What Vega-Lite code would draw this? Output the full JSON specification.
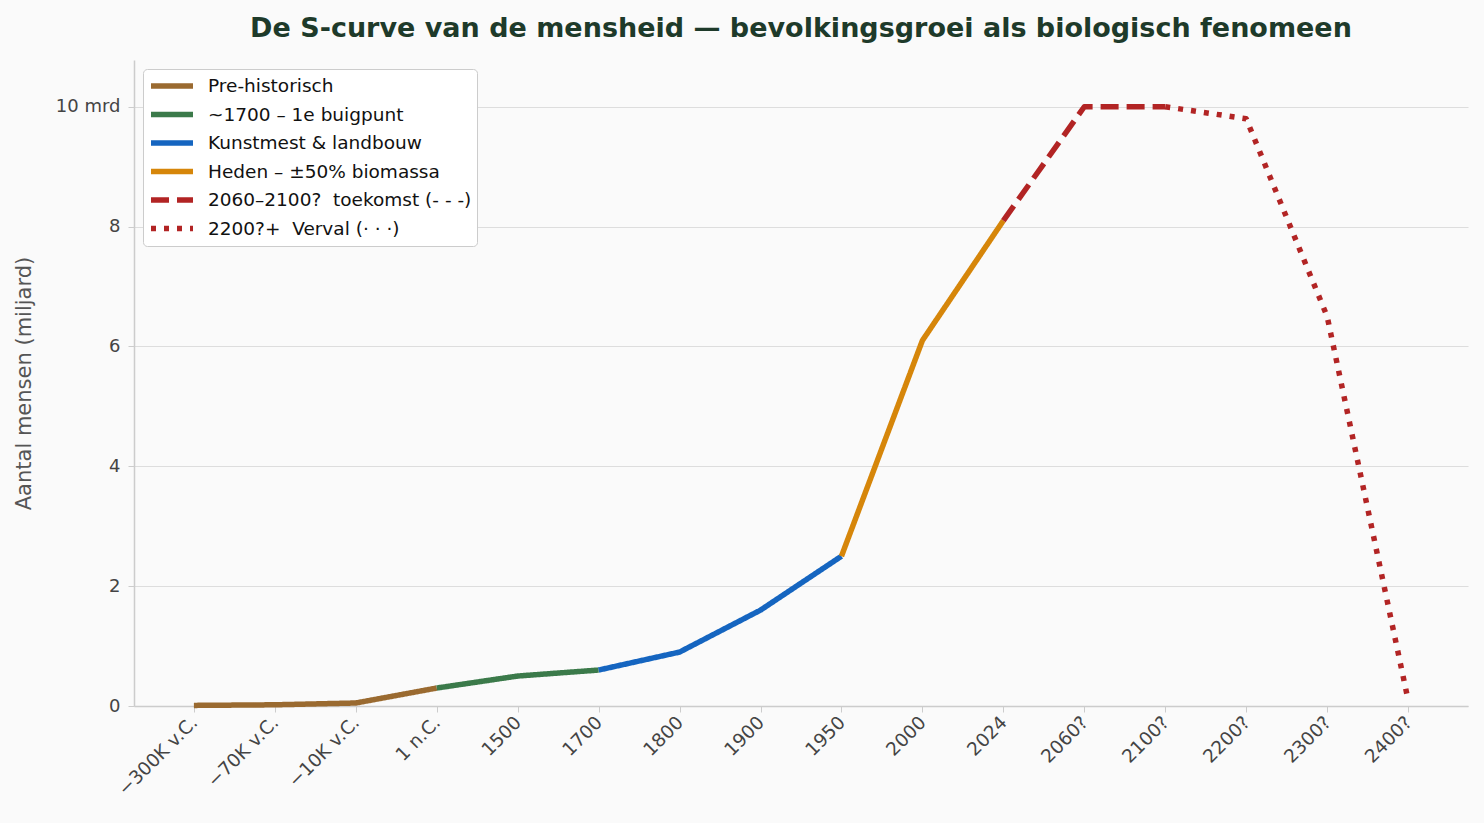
{
  "$schema": "https://vega.github.io/schema/vega-lite/v6.json",
  "width": 1334,
  "height": 646,
  "autosize": {"type": "none"},
  "padding": {"left": 134, "top": 60, "right": 16, "bottom": 117},
  "background": "#fafafa",
  "title": {
    "text": "De S-curve van de mensheid — bevolkingsgroei als biologisch fenomeen",
    "font": "DejaVu Sans",
    "fontSize": 27,
    "fontWeight": "bold",
    "color": "#1e3a2a",
    "anchor": "middle",
    "offset": 17
  },
  "data": {
    "values": [
      {"tijd": "−300K v.C.", "mensen": 0.01, "fase": "Pre-historisch"},
      {"tijd": "−70K v.C.", "mensen": 0.02, "fase": "Pre-historisch"},
      {"tijd": "−10K v.C.", "mensen": 0.05, "fase": "Pre-historisch"},
      {"tijd": "1 n.C.", "mensen": 0.3, "fase": "Pre-historisch"},
      {"tijd": "1 n.C.", "mensen": 0.3, "fase": "~1700 – 1e buigpunt"},
      {"tijd": "1500", "mensen": 0.5, "fase": "~1700 – 1e buigpunt"},
      {"tijd": "1700", "mensen": 0.6, "fase": "~1700 – 1e buigpunt"},
      {"tijd": "1700", "mensen": 0.6, "fase": "Kunstmest & landbouw"},
      {"tijd": "1800", "mensen": 0.9, "fase": "Kunstmest & landbouw"},
      {"tijd": "1900", "mensen": 1.6, "fase": "Kunstmest & landbouw"},
      {"tijd": "1950", "mensen": 2.5, "fase": "Kunstmest & landbouw"},
      {"tijd": "1950", "mensen": 2.5, "fase": "Heden – ±50% biomassa"},
      {"tijd": "2000", "mensen": 6.1, "fase": "Heden – ±50% biomassa"},
      {"tijd": "2024", "mensen": 8.1, "fase": "Heden – ±50% biomassa"},
      {"tijd": "2024", "mensen": 8.1, "fase": "2060–2100?\u00a0 toekomst (- - -)"},
      {"tijd": "2060?", "mensen": 10.0, "fase": "2060–2100?\u00a0 toekomst (- - -)"},
      {"tijd": "2100?", "mensen": 10.0, "fase": "2060–2100?\u00a0 toekomst (- - -)"},
      {"tijd": "2100?", "mensen": 10.0, "fase": "2200?+\u00a0 Verval (· · ·)"},
      {"tijd": "2200?", "mensen": 9.8, "fase": "2200?+\u00a0 Verval (· · ·)"},
      {"tijd": "2300?", "mensen": 6.5, "fase": "2200?+\u00a0 Verval (· · ·)"},
      {"tijd": "2400?", "mensen": 0.1, "fase": "2200?+\u00a0 Verval (· · ·)"}
    ]
  },
  "mark": {"type": "line", "strokeWidth": 5.5, "strokeCap": "butt", "strokeJoin": "round"},
  "encoding": {
    "x": {
      "field": "tijd",
      "type": "ordinal",
      "sort": ["−300K v.C.", "−70K v.C.", "−10K v.C.", "1 n.C.", "1500", "1700", "1800", "1900", "1950", "2000", "2024", "2060?", "2100?", "2200?", "2300?", "2400?"],
      "scale": {"type": "point", "padding": 0.74},
      "axis": {
        "title": null,
        "labelAngle": -45,
        "labelAlign": "right",
        "labelBaseline": "middle",
        "labelFontSize": 18.5,
        "labelColor": "#444444",
        "labelFont": "DejaVu Sans",
        "labelPadding": 7,
        "tickColor": "#cccccc",
        "tickSize": 6,
        "domainColor": "#cccccc",
        "domainWidth": 1.5,
        "grid": false
      }
    },
    "y": {
      "field": "mensen",
      "type": "quantitative",
      "scale": {"domain": [0, 10.78], "nice": false},
      "axis": {
        "title": "Aantal mensen (miljard)",
        "titleFont": "DejaVu Sans",
        "titleFontSize": 21,
        "titleFontWeight": "normal",
        "titleColor": "#555555",
        "titlePadding": 21,
        "values": [0, 2, 4, 6, 8, 10],
        "labelExpr": "datum.value == 10 ? '10 mrd' : datum.label",
        "labelFontSize": 18,
        "labelColor": "#444444",
        "labelFont": "DejaVu Sans",
        "labelPadding": 8,
        "tickColor": "#cccccc",
        "tickSize": 6,
        "domainColor": "#cccccc",
        "domainWidth": 1.5,
        "gridColor": "#dddddd",
        "gridWidth": 1
      }
    },
    "color": {
      "field": "fase",
      "type": "nominal",
      "sort": null,
      "scale": {
        "domain": ["Pre-historisch", "~1700 – 1e buigpunt", "Kunstmest & landbouw", "Heden – ±50% biomassa", "2060–2100?\u00a0 toekomst (- - -)", "2200?+\u00a0 Verval (· · ·)"],
        "range": ["#9a6a30", "#3b7a4a", "#1565c0", "#d6860a", "#b22424", "#b22424"]
      },
      "legend": {
        "title": null,
        "orient": "top-left",
        "offset": 9,
        "fillColor": "#ffffff",
        "strokeColor": "#cccccc",
        "cornerRadius": 4,
        "padding": 5,
        "labelFont": "DejaVu Sans",
        "labelFontSize": 18.5,
        "labelColor": "#111111",
        "labelLimit": 400,
        "rowPadding": 4.5,
        "clipHeight": 24,
        "symbolType": "stroke",
        "symbolSize": 1764,
        "symbolStrokeWidth": 5.5,
        "labelOffset": 12
      }
    },
    "strokeDash": {
      "field": "fase",
      "type": "nominal",
      "sort": null,
      "scale": {
        "domain": ["Pre-historisch", "~1700 – 1e buigpunt", "Kunstmest & landbouw", "Heden – ±50% biomassa", "2060–2100?\u00a0 toekomst (- - -)", "2200?+\u00a0 Verval (· · ·)"],
        "range": [[1, 0], [1, 0], [1, 0], [1, 0], [18, 8], [5, 8]]
      }
    }
  },
  "config": {
    "view": {"stroke": null},
    "font": "DejaVu Sans"
  }
}
